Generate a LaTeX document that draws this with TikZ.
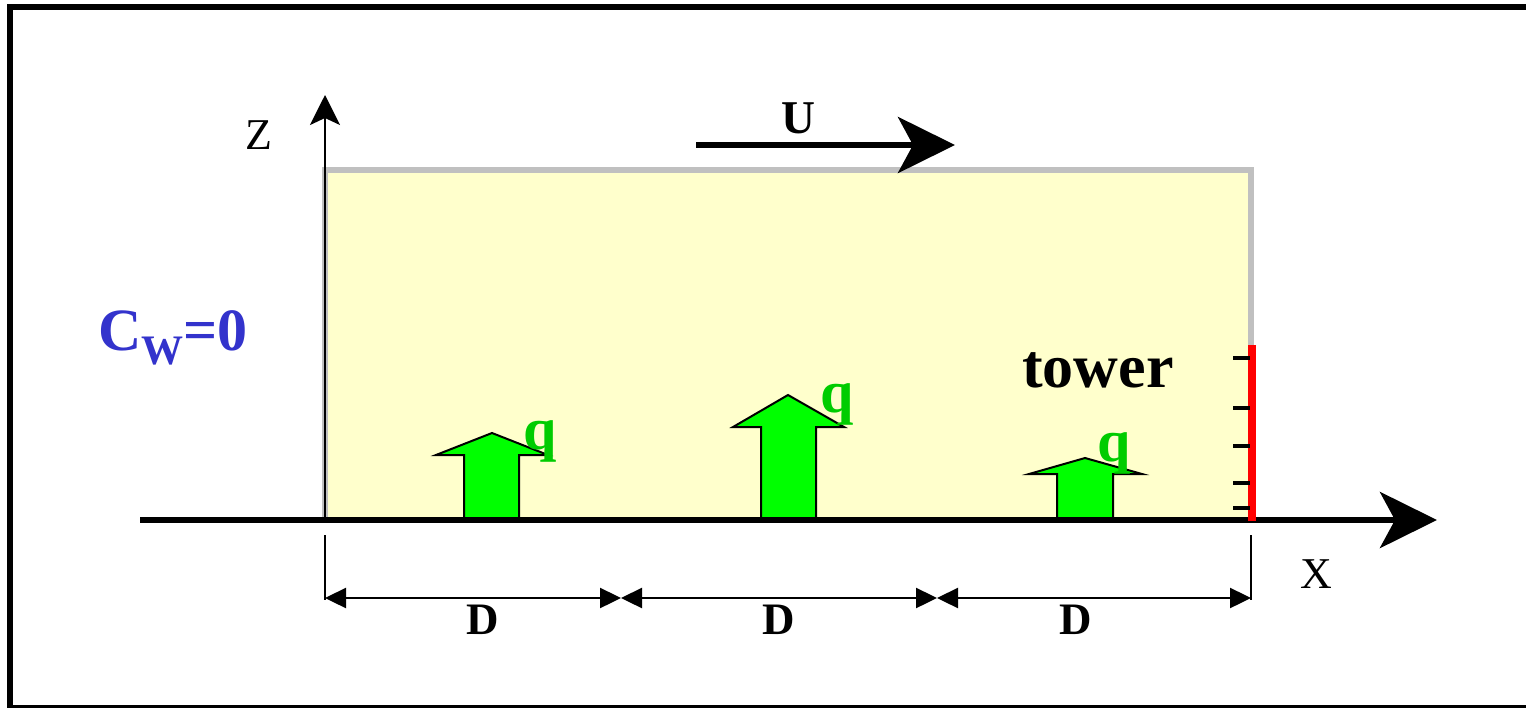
\documentclass[tikz,border=0pt]{standalone}
\usepackage{fontspec}
\setmainfont{Liberation Serif}
\usetikzlibrary{arrows.meta}
\definecolor{FillBox}{RGB}{255,255,204}
\definecolor{EdgeBox}{RGB}{192,192,192}
\definecolor{FillSrc}{RGB}{0,255,0}
\definecolor{TextSrc}{RGB}{0,204,0}
\definecolor{TextBC}{RGB}{51,51,204}
\definecolor{Tower}{RGB}{255,0,0}

\begin{document}
\begin{tikzpicture}[x=0.5pt, y=-0.5pt,
            axis/.style={line width=3pt, -{Stealth[length=28.5pt,width=28pt,inset=7.5pt]}},
            zaxis/.style={line width=1pt, -{Stealth[length=15pt,width=15pt,inset=3.5pt]}},
            dim/.style={line width=1.2pt, {Triangle[length=10.5pt,width=10pt]}-{Triangle[length=10.5pt,width=10pt]}},
            ext/.style={line width=1pt},
            src/.style={draw, line width=1pt, fill=FillSrc, line join=miter},
            lbl/.style={inner sep=0pt, font=\bfseries\fontsize{22.5}{25}\selectfont},
            qlbl/.style={inner sep=0pt, anchor=base, text=TextSrc, font=\bfseries\fontsize{30}{32}\selectfont}
        ]
            \useasboundingbox (0,0) rectangle (1526,707);
            % frame
            \draw[line width=3pt] (10,7) rectangle (1540,708);
            % domain
            \fill[FillBox] (325,170) rectangle (1251,520);
            \draw[EdgeBox, line width=2.8pt] (325,521) -- (325,170) -- (1251,170) -- (1251,345);
            % sources
            \draw[src] (464,520) -- (464,455) -- (436,455) -- (492,433) -- (548,455) -- (519,455) -- (519,520) -- cycle;
            \draw[src] (761,520) -- (761,427) -- (733,427) -- (788,395) -- (844,427) -- (816,427) -- (816,520) -- cycle;
            \draw[src] (1057,520) -- (1057,474) -- (1029,474) -- (1085,458) -- (1142,474) -- (1113,474) -- (1113,520) -- cycle;
            % axes
            \coordinate (xs) at (140,520);
            \coordinate (xe) at (1437,520);
            \coordinate (o)  at (325,520);
            \coordinate (zt) at (325,95);
            \draw[axis] (xs) -- (xe);
            \draw[zaxis] (o) -- (zt);
            % tower
            \coordinate (tb) at (1252,521);
            \coordinate (tt) at (1252,345);
            \draw[Tower, line width=4pt] (tb) -- (tt);
            \foreach \ty in {358,408,446,483,508}
                \draw[line width=2pt] (1233,\ty) -- (1250,\ty);
            % wind
            \coordinate (us) at (696,145);
            \coordinate (ue) at (955,145);
            \draw[axis] (us) -- (ue);
            % labels
            \node[inner sep=0pt, font=\fontsize{22}{24}\selectfont] (zlbl) at (259,135) {Z};
            \node[inner sep=0pt, font=\fontsize{22}{24}\selectfont] (xlbl) at (1316,574) {X};
            \node[lbl, font=\bfseries\fontsize{23.5}{26}\selectfont] (ulbl) at (798,118) {U};
            \node[inner sep=0pt, anchor=base west, text=TextBC, font=\bfseries\fontsize{30}{34}\selectfont] (cw) at (98,350) {C\raisebox{-7pt}{\fontsize{21}{24}\selectfont W}=0};
            \node[inner sep=0pt, anchor=base, font=\bfseries\fontsize{31}{34}\selectfont] (tlbl) at (1098,387) {tower};
            \node[qlbl] (q1) at (540,449) {q};
            \node[qlbl] (q2) at (837,412) {q};
            \node[qlbl] (q3) at (1114,461) {q};
            % dimensions
            \coordinate (e0) at (325,535);
            \coordinate (e3) at (1251,535);
            \coordinate (d0) at (325,598);
            \coordinate (d1) at (621,598);
            \coordinate (d2) at (937,598);
            \coordinate (d3) at (1251,598);
            \draw[ext] (e0) -- ([yshift=-1pt]d0);
            \draw[ext] (e3) -- ([yshift=-1pt]d3);
            \draw[dim] (d0) -- (d1);
            \draw[dim] (d1) -- (d2);
            \draw[dim] (d2) -- (d3);
            \node[lbl] (dl1) at (483,620) {D};
            \node[lbl] (dl2) at (779,620) {D};
            \node[lbl] (dl3) at (1076,620) {D};
        \end{tikzpicture}
\end{document}
